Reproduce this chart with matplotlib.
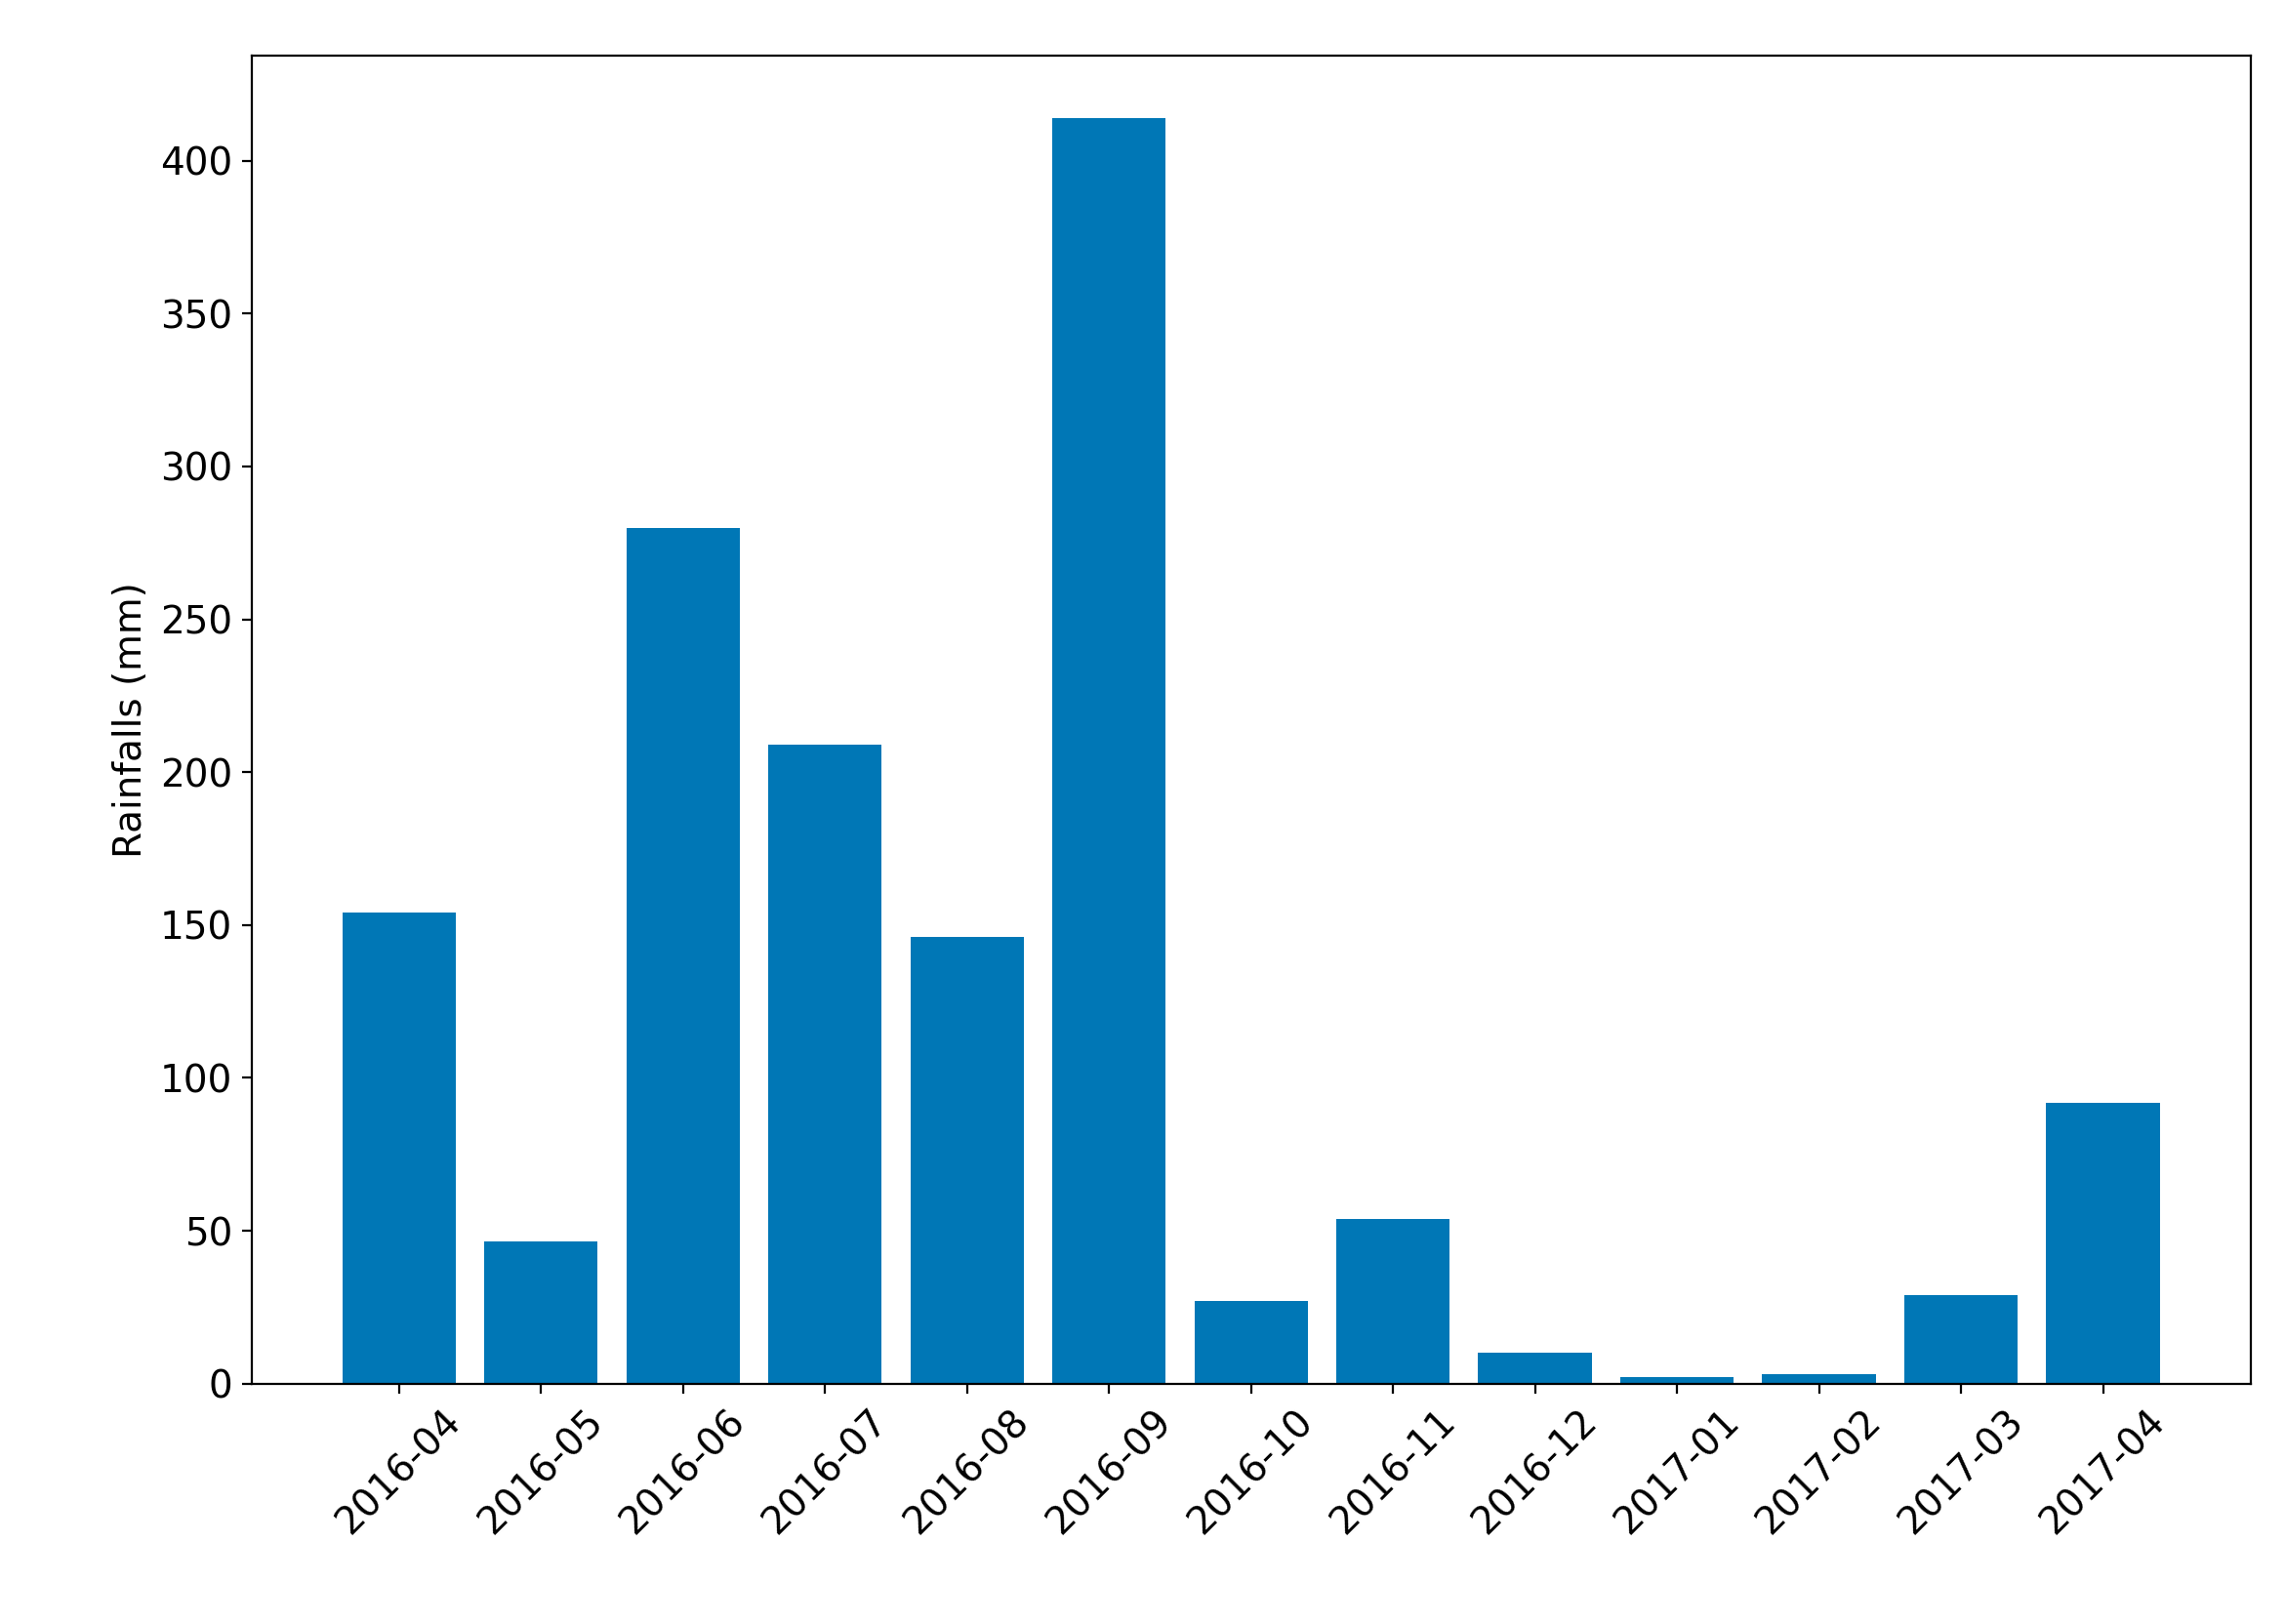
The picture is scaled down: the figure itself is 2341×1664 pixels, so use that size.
import matplotlib
matplotlib.use("Agg")
import matplotlib.pyplot as plt

months = ["2016-04", "2016-05", "2016-06", "2016-07", "2016-08", "2016-09", "2016-10",
          "2016-11", "2016-12", "2017-01", "2017-02", "2017-03", "2017-04"]
rainfall = [154, 46.5, 280, 209, 146, 414, 27, 54, 10, 2, 3, 29, 92]

fig = plt.figure(figsize=(11.705, 8.32), dpi=200)
ax = fig.add_axes([0.110, 0.148, 0.875, 0.818])
ax.bar(range(len(months)), rainfall, color="#0077b6", width=0.8)
ax.set_xticks(range(len(months)))
ax.set_xticklabels(months, rotation=45, fontsize=14)
ax.tick_params(axis="y", labelsize=14)
ax.set_ylabel("Rainfalls (mm)", fontsize=14)
ax.set_ylim(0, 434.5)
plt.savefig("out.png", dpi=200)
plt.close()
